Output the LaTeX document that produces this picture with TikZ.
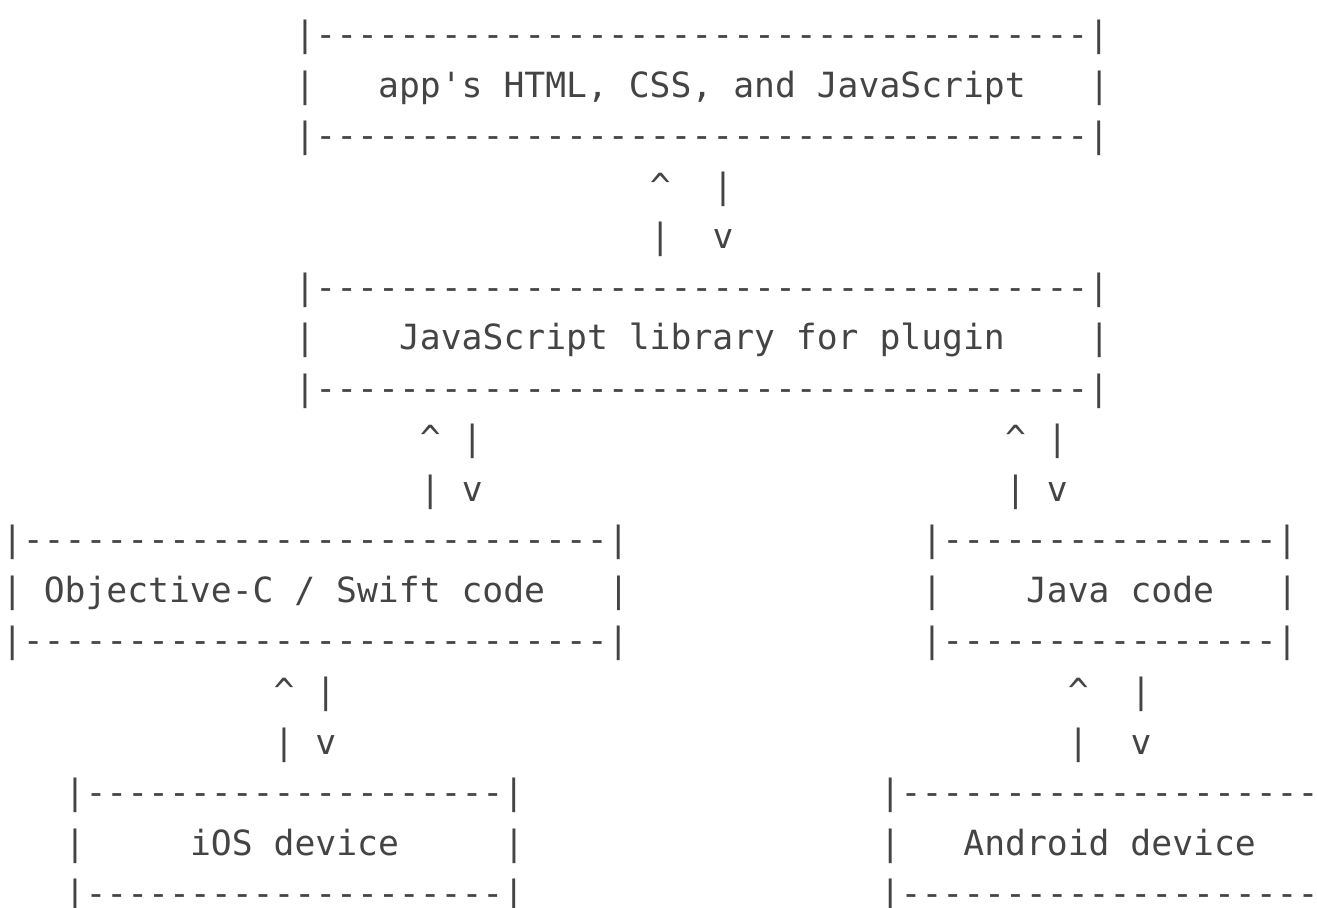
\documentclass[tikz,border=0pt]{standalone}
\usepackage{fontspec}
\setmonofont{DejaVu Sans Mono}
\definecolor{asciigray}{RGB}{68,68,68}
\tikzset
{
	ascii/.style={font=\ttfamily\fontsize{17.35pt}{25.25pt}\selectfont,text=asciigray,inner sep=0pt,anchor=base west}
}
\newcommand\dashrow[1]{|\foreach\i in {1,...,#1}{-}|}

\begin{document}
\begin{tikzpicture}[x=10.45pt,y=-25.25pt]
		% frame
		\useasboundingbox (0pt,0pt) rectangle (658.5pt,-454pt);
		\clip (0pt,0pt) rectangle (658.5pt,-454pt);
		\begin{scope}[shift={(0.78pt,-23.5pt)}]
			% top and bottom rules of the boxes
			\foreach\c/\r/\n in {14/0/37,14/2/37,14/5/37,14/7/37,0/10/28,0/12/28,44/10/16,44/12/16,3/15/20,3/17/20,42/15/20,42/17/20}
			\node[ascii] (rule\c-\r) at (\c,\r) {\dashrow{\n}};
			% box sides
			\foreach\c/\r in {14/1,52/1,14/6,52/6,0/11,29/11,44/11,61/11,3/16,24/16,42/16,63/16}
			\node[ascii] (side\c-\r) at (\c,\r) {|};
			% labels
			\node[ascii] (app) at (18,1) {app's HTML, CSS, and JavaScript};
			\node[ascii] (jslib) at (19,6) {JavaScript library for plugin};
			\node[ascii] (objc) at (2,11) {Objective-C / Swift code};
			\node[ascii] (java) at (49,11) {Java code};
			\node[ascii] (ios) at (9,16) {iOS device};
			\node[ascii] (android) at (46,16) {Android device};
			% up / down arrows
			\foreach\u/\d/\r in {31/34/3,20/22/8,48/50/8,13/15/13,51/54/13}
			{
				\node[ascii] (up\u-\r) at (\u,\r) {\textasciicircum};
				\node[ascii] (upbar\u-\r) at (\u,\r+1) {|};
				\node[ascii] (downbar\d-\r) at (\d,\r) {|};
				\node[ascii] (down\d-\r) at (\d,\r+1) {v};
			}
		\end{scope}
	\end{tikzpicture}
\end{document}
